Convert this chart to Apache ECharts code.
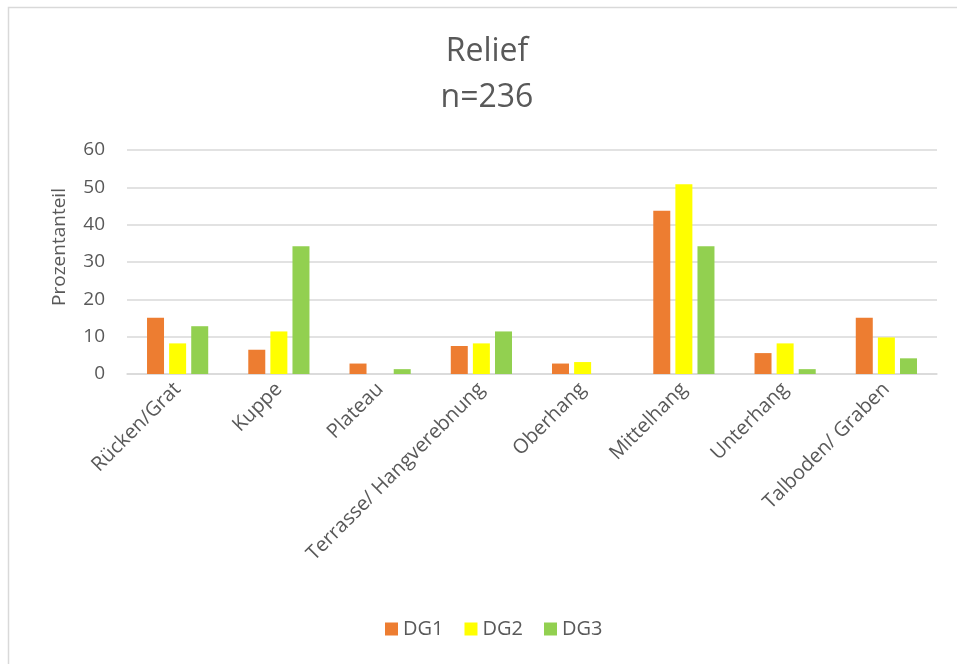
<!DOCTYPE html>
<html>
<head>
<meta charset="utf-8">
<script src="https://cdn.jsdelivr.net/npm/echarts@6/dist/echarts.min.js"></script>
<style>
  html, body { margin: 0; padding: 0; background: #fff; }
  #main { width: 957px; height: 664px; }
</style>
</head>
<body>
<div id="main"></div>
<script>
var categories = ['Rücken/Grat', 'Kuppe', 'Plateau', 'Terrasse/ Hangverebnung', 'Oberhang', 'Mittelhang', 'Unterhang', 'Talboden/ Graben'];
var dg1 = [15.1, 6.5, 2.8, 7.5, 2.8, 43.7, 5.6, 15.1];
var dg2 = [8.2, 11.4, 0, 8.2, 3.2, 50.8, 8.2, 9.8];
var dg3 = [12.8, 34.2, 1.3, 11.4, 0, 34.2, 1.3, 4.2];
var seriesNames = ['DG1', 'DG2', 'DG3'];
var colors = ['#ed7d31', '#ffff00', '#92d050'];

var font = '"Open Sans", "Noto Sans", sans-serif';
var textColor = '#595959';

var chart = echarts.init(document.getElementById('main'));

function bar(name, data, color) {
    return {
        name: name,
        type: 'bar',
        data: data,
        barWidth: 17,
        barGap: '30%',
        itemStyle: { color: color }
    };
}

chart.setOption({
    backgroundColor: '#fff',
    animation: false,
    color: colors,
    graphic: [{
        type: 'rect',
        left: 6,
        top: 5,
        shape: { width: 1200, height: 1000 },
        style: { fill: 'none', stroke: '#d9d9d9', lineWidth: 1.5 },
        silent: true
    }],
    title: {
        text: 'Relief\nn=236',
        left: 482,
        textAlign: 'center',
        top: 24,
        textStyle: {
            color: textColor,
            fontFamily: font,
            fontWeight: 'normal',
            fontSize: 32,
            lineHeight: 46
        }
    },
    legend: {
        data: seriesNames,
        bottom: 20,
        left: 380,
        icon: 'rect',
        itemWidth: 13,
        itemHeight: 13,
        itemGap: 21,
        textStyle: { color: textColor, fontFamily: font, fontSize: 20 }
    },
    grid: {
        left: 127,
        right: 20,
        top: 150,
        bottom: 290,
        containLabel: false
    },
    xAxis: {
        type: 'category',
        data: categories,
        axisTick: { show: false },
        axisLine: { lineStyle: { color: '#d9d9d9', width: 1.5 } },
        axisLabel: {
            rotate: 45,
            interval: 0,
            margin: 12,
            color: textColor,
            fontFamily: font,
            fontSize: 20
        }
    },
    yAxis: {
        type: 'value',
        min: 0,
        max: 60,
        interval: 10,
        name: 'Prozentanteil',
        nameLocation: 'middle',
        nameGap: 58,
        nameRotate: 90,
        nameTextStyle: { color: textColor, fontFamily: font, fontSize: 19, padding: [0, 0, 0, 30] },
        axisLine: { show: false },
        axisTick: { show: false },
        axisLabel: { color: textColor, fontFamily: font, fontSize: 19, margin: 22 },
        splitLine: { lineStyle: { color: '#d9d9d9', width: 1.5 } }
    },
    series: [
        bar(seriesNames[0], dg1, colors[0]),
        bar(seriesNames[1], dg2, colors[1]),
        bar(seriesNames[2], dg3, colors[2])
    ]
});
</script>
</body>
</html>
